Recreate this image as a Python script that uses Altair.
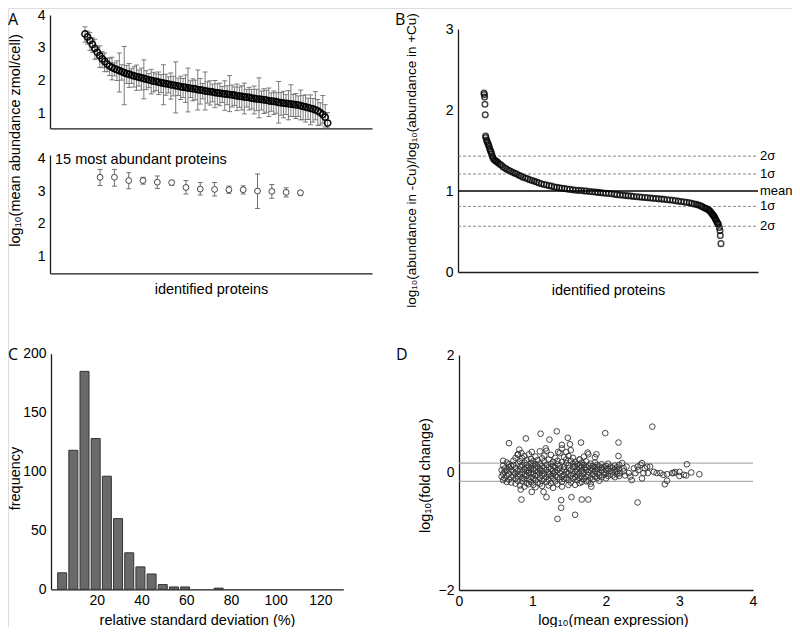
import altair as alt
import pandas as pd

FONT = "Liberation Sans"
W, H = 784, 619

# ---------------- Panel A (top): all identified proteins, sorted by abundance ----------------
a_mean = [3.42, 3.33, 3.22, 3.10, 2.98, 2.86, 2.76, 2.66, 2.58, 2.50,
          2.44, 2.40, 2.36, 2.33, 2.30, 2.27, 2.24, 2.21, 2.19, 2.16,
          2.14, 2.12, 2.10, 2.08, 2.06, 2.04, 2.02, 2.00, 1.98, 1.97,
          1.95, 1.93, 1.92, 1.90, 1.89, 1.87, 1.86, 1.84, 1.83, 1.81,
          1.80, 1.79, 1.77, 1.76, 1.75, 1.74, 1.72, 1.71, 1.70, 1.68,
          1.67, 1.66, 1.65, 1.63, 1.62, 1.61, 1.60, 1.59, 1.58, 1.57,
          1.56, 1.55, 1.53, 1.52, 1.51, 1.50, 1.49, 1.48, 1.46, 1.45,
          1.44, 1.43, 1.42, 1.41, 1.40, 1.38, 1.37, 1.36, 1.35, 1.33,
          1.32, 1.31, 1.30, 1.29, 1.28, 1.27, 1.26, 1.25, 1.23, 1.21,
          1.19, 1.17, 1.15, 1.13, 1.10, 1.07, 1.02, 0.96, 0.88, 0.70]
a_err_up = [0.22, 0.18, 0.25, 0.20, 0.28, 0.15, 0.30, 0.22, 0.26, 0.19,
            0.24, 0.31, 0.18, 0.27, 0.54, 0.21, 0.80, 0.25, 0.33, 0.20,
            0.28, 0.35, 0.22, 0.30, 0.57, 0.26, 0.19, 0.34, 0.27, 0.23,
            0.31, 0.25, 0.56, 0.29, 0.22, 0.36, 0.27, 0.73, 0.24, 0.32,
            0.26, 0.38, 0.61, 0.23, 0.30, 0.27, 0.60, 0.35, 0.21, 0.58,
            0.29, 0.33, 0.24, 0.37, 0.28, 0.31, 0.22, 0.40, 0.26, 0.58,
            0.30, 0.25, 0.36, 0.28, 0.33, 0.42, 0.24, 0.31, 0.27, 0.38,
            0.29, 0.65, 0.26, 0.34, 0.30, 0.39, 0.25, 0.32, 0.28, 0.64,
            0.31, 0.36, 0.27, 0.40, 0.59, 0.30, 0.34, 0.28, 0.48, 0.33,
            0.37, 0.29, 0.41, 0.32, 0.56, 0.35, 0.30, 0.58, 0.38, 0.32]
a_err_down = [0.25, 0.22, 0.30, 0.24, 0.33, 0.20, 0.36, 0.27, 0.31, 0.23,
              0.29, 0.38, 0.22, 0.33, 0.65, 0.26, 0.98, 0.30, 0.40, 0.25,
              0.34, 0.42, 0.27, 0.37, 0.62, 0.32, 0.24, 0.41, 0.33, 0.28,
              0.38, 0.30, 0.66, 0.35, 0.27, 0.44, 0.33, 0.83, 0.29, 0.39,
              0.32, 0.46, 0.73, 0.28, 0.37, 0.33, 0.62, 0.43, 0.26, 0.58,
              0.36, 0.41, 0.30, 0.46, 0.35, 0.38, 0.27, 0.50, 0.32, 0.52,
              0.37, 0.31, 0.45, 0.34, 0.41, 0.52, 0.30, 0.38, 0.33, 0.47,
              0.36, 0.57, 0.32, 0.42, 0.37, 0.48, 0.31, 0.40, 0.35, 0.63,
              0.38, 0.45, 0.34, 0.49, 0.38, 0.37, 0.42, 0.35, 0.43, 0.41,
              0.46, 0.36, 0.50, 0.40, 0.30, 0.44, 0.38, 0.26, 0.30, 0.15]

# ---------------- Panel A (bottom): 15 most abundant proteins ----------------
top15_rank = [1, 2, 3, 4, 5, 6, 7, 8, 9, 10, 11, 12, 13, 14, 15]
top15_mean = [3.42, 3.42, 3.32, 3.32, 3.27, 3.26, 3.11, 3.06, 3.05, 3.04, 3.04, 3.00, 2.99, 2.96, 2.95]
top15_upper = [3.66, 3.66, 3.56, 3.42, 3.46, 3.32, 3.32, 3.26, 3.26, 3.15, 3.16, 3.52, 3.20, 3.10, 3.01]
top15_lower = [3.17, 3.15, 3.07, 3.21, 3.08, 3.18, 2.91, 2.88, 2.85, 2.93, 2.91, 2.47, 2.78, 2.82, 2.86]

# ---------------- Panel B: ratio -Cu / +Cu, sorted ----------------
b_rank = [1, 2, 3, 4, 5,
          6, 7, 9, 11, 13, 15, 17, 19, 21, 23, 25, 27, 29, 32, 35, 38, 41, 45, 50, 55, 60,
          66, 72, 78, 84, 91, 97, 103, 110, 116, 122,
          130, 137, 144, 151, 158, 165, 172, 180, 188, 196,
          204, 212, 220, 228, 236, 244, 252, 260, 269, 278,
          287, 296, 305, 314, 321, 330, 339, 348, 356, 364,
          372, 381, 390, 399, 408, 416, 425, 434, 443, 451,
          460, 468, 477, 486, 494, 503, 511, 520, 528, 537,
          546, 555, 563, 572, 581, 590, 598, 607, 616, 625,
          633, 641, 649, 656, 663, 669, 675, 680, 685, 690,
          694, 698, 702, 705, 708, 711, 714, 716, 718, 720,
          722, 724, 726, 728, 730, 732,
          735, 737, 738, 740]
b_ratio = [2.21, 2.19, 2.16, 2.07, 1.94,
           1.68, 1.66, 1.63, 1.61, 1.59, 1.57, 1.55, 1.52, 1.50, 1.48, 1.46, 1.43, 1.41, 1.39, 1.38, 1.37, 1.36, 1.35, 1.33, 1.32, 1.30,
           1.285, 1.27, 1.255, 1.245, 1.23, 1.22, 1.21, 1.195, 1.185, 1.17,
           1.16, 1.15, 1.14, 1.13, 1.12, 1.11, 1.10, 1.09, 1.08, 1.075,
           1.065, 1.06, 1.05, 1.045, 1.04, 1.035, 1.03, 1.025, 1.02, 1.015,
           1.01, 1.008, 1.005, 1.00, 1.0, 0.995, 0.99, 0.987, 0.983, 0.98,
           0.975, 0.972, 0.968, 0.965, 0.96, 0.955, 0.95, 0.947, 0.943, 0.94,
           0.937, 0.933, 0.93, 0.927, 0.923, 0.92, 0.917, 0.913, 0.91, 0.907,
           0.903, 0.90, 0.897, 0.893, 0.89, 0.885, 0.88, 0.875, 0.87, 0.865,
           0.86, 0.855, 0.848, 0.84, 0.835, 0.828, 0.82, 0.81, 0.80, 0.79,
           0.785, 0.775, 0.765, 0.755, 0.74, 0.725, 0.71, 0.70, 0.69, 0.675,
           0.66, 0.645, 0.63, 0.615, 0.60, 0.59,
           0.55, 0.51, 0.45, 0.35]
b_dashed_levels = [1.43, 1.21, 0.81, 0.565]
b_mean_level = [1.0]
b_level_values = [1.43, 1.21, 1.0, 0.81, 0.565]
b_level_labels = ["2σ", "1σ", "mean", "1σ", "2σ"]

# ---------------- Panel C: histogram of relative standard deviation ----------------
c_bin_center = [4.5, 9.5, 14.5, 19.5, 24.5, 29.5, 34.5, 39.5, 44.5, 49.5, 54.5, 59.5,
                64.5, 69.5, 74.5, 79.5, 84.5, 89.5, 94.5, 99.5, 104.5, 109.5, 114.5, 119.5, 124.5]
c_count = [14, 118, 185, 128, 96, 60, 31, 19, 13, 4, 2, 2,
           0, 0, 1, 0, 0, 0, 0, 0, 0, 0, 0, 0, 0]

# ---------------- Panel D: MA-style scatter ----------------
d_cluster = {
    0.58: [-0.07, 0.04], 0.60: [0.12, -0.02, -0.13, 0.20], 0.62: [0.07, 0.01, -0.10],
    0.65: [0.17, -0.05, 0.03, -0.16], 0.68: [0.09, -0.12, 0.14, -0.02],
    0.71: [0.05, -0.08, 0.11, -0.17], 0.74: [0.20, 0.01, -0.05, 0.13],
    0.77: [-0.10, 0.07, 0.25, -0.02, -0.19], 0.80: [0.30, 0.15, -0.14, 0.03, -0.07],
    0.83: [0.10, -0.03, 0.19, -0.22, 0.05], 0.86: [0.24, -0.09, 0.01, 0.12, -0.15],
    0.89: [0.06, -0.04, 0.17, -0.11, 0.28, -0.24], 0.92: [0.02, 0.13, -0.18, 0.08, -0.06, 0.21],
    0.95: [-0.01, 0.31, 0.10, -0.12, 0.04, -0.20], 0.98: [0.16, -0.08, 0.07, -0.16, 0.23, 0.00],
    1.01: [0.12, -0.03, 0.05, -0.21, 0.19, -0.10], 1.04: [0.27, 0.08, -0.06, 0.14, -0.13, -0.25],
    1.07: [0.02, -0.17, 0.10, 0.21, -0.04], 1.10: [0.36, 0.06, -0.09, 0.15, -0.01, -0.19],
    1.13: [0.11, -0.05, 0.24, 0.03, -0.14, -0.23], 1.16: [0.19, -0.02, 0.08, -0.11, 0.29],
    1.19: [0.04, 0.13, -0.07, -0.16, 0.37], 1.22: [0.22, 0.00, 0.09, -0.12, -0.03, -0.22],
    1.25: [0.15, -0.06, 0.06, 0.30, -0.18], 1.28: [0.03, 0.18, -0.10, 0.11, -0.02, -0.26],
    1.31: [0.25, -0.05, 0.08, -0.15, 0.01], 1.34: [0.14, -0.08, 0.04, 0.20, -0.20],
    1.37: [0.07, -0.01, 0.33, -0.12, 0.12], 1.40: [0.18, 0.02, -0.07, 0.41, -0.16, -0.24],
    1.43: [0.10, -0.04, 0.26, 0.05, -0.11], 1.46: [0.16, -0.09, 0.01, 0.22, 0.35],
    1.49: [0.07, -0.02, 0.12, -0.13, 0.28, -0.21], 1.52: [0.20, -0.06, 0.04, 0.38, -0.17],
    1.55: [0.09, 0.15, -0.03, -0.10, 0.25], 1.58: [0.02, 0.11, -0.08, 0.18, -0.21],
    1.61: [0.06, -0.05, 0.14, 0.01, -0.13], 1.64: [0.22, 0.08, -0.02, -0.09, 0.12, -0.18],
    1.67: [0.03, 0.17, -0.06, 0.10, -0.16], 1.70: [0.07, -0.01, 0.13, -0.11, 0.27],
    1.73: [0.19, 0.04, -0.07, 0.09, -0.15], 1.76: [0.01, 0.12, -0.04, 0.31, -0.14],
    1.79: [0.08, -0.09, 0.15, 0.03, -0.19], 1.82: [0.05, -0.03, 0.11, -0.12],
    1.85: [0.17, 0.02, -0.07, 0.09, 0.26], 1.88: [0.06, -0.02, 0.13, -0.09],
    1.91: [0.10, 0.00, -0.05, -0.14], 1.94: [0.04, 0.14, -0.08, 0.08],
    1.97: [0.01, 0.09, -0.04], 2.00: [0.11, -0.02, 0.05, -0.10], 2.03: [0.07, -0.06, 0.15],
    2.06: [0.03, 0.10, -0.03], 2.09: [0.08, -0.05, 0.01], 2.12: [0.05, 0.12, -0.08],
    2.15: [0.02, 0.09, -0.03], 2.18: [0.06, -0.06, 0.13],
}
d_other = [
    (0.68, 0.50), (0.91, 0.58), (1.11, 0.66), (1.33, 0.70), (1.23, 0.56), (1.48, 0.59),
    (1.51, 0.48), (1.40, 0.47), (1.66, 0.51), (1.99, 0.67), (2.17, 0.51), (2.17, 0.28),
    (2.63, 0.78), (0.82, 0.39), (0.85, 0.33), (0.80, 0.31), (0.99, 0.35), (1.18, 0.41),
    (1.35, 0.35), (1.75, 0.34), (1.87, 0.31), (1.64, 0.22), (3.10, 0.14),
    (0.85, -0.46), (1.15, -0.33), (1.19, -0.42), (1.39, -0.47), (1.39, -0.60), (1.34, -0.79),
    (1.53, -0.42), (1.58, -0.72), (1.67, -0.46), (1.76, -0.46), (2.43, -0.51), (0.99, -0.33),
    (0.84, -0.29), (1.80, -0.24),
    (2.19, -0.01), (2.22, 0.16), (2.24, 0.07), (2.24, 0.02), (2.26, -0.05), (2.28, 0.10),
    (2.31, -0.01), (2.33, -0.07), (2.35, -0.13), (2.38, 0.07), (2.40, -0.01), (2.43, 0.10),
    (2.44, 0.04), (2.47, 0.13), (2.49, 0.16), (2.49, -0.10), (2.51, -0.01), (2.53, 0.07),
    (2.56, 0.10), (2.57, -0.01), (2.60, 0.10), (2.65, 0.01), (2.69, -0.01), (2.74, -0.01),
    (2.78, -0.04), (2.80, -0.20), (2.83, -0.14), (2.83, -0.03), (2.90, -0.01), (2.92, -0.01),
    (2.94, 0.01), (3.00, 0.01), (3.00, -0.06), (3.06, -0.04), (3.09, -0.05), (3.16, 0.00),
    (3.27, -0.03),
]
d_band = [0.16, -0.15]

panel_letters = ["A", "B", "C", "D"]

# ---------------- tables ----------------
dfA = pd.DataFrame({"rank": list(range(len(a_mean))), "mean": a_mean})
dfA["upper"] = [m + u for m, u in zip(a_mean, a_err_up)]
dfA["lower"] = [m - d for m, d in zip(a_mean, a_err_down)]
df15 = pd.DataFrame({"rank": top15_rank, "mean": top15_mean, "upper": top15_upper, "lower": top15_lower})
dfB = pd.DataFrame({"rank": b_rank, "ratio": b_ratio})
dfBd = pd.DataFrame({"v": b_dashed_levels})
dfBm = pd.DataFrame({"v": b_mean_level})
dfBl = pd.DataFrame({"v": b_level_values, "label": b_level_labels})
dfC = pd.DataFrame({"center": c_bin_center, "count": c_count})
d_pts = [(x, y) for x, ys in d_cluster.items() for y in ys] + d_other
dfD = pd.DataFrame(d_pts, columns=["x", "y"])
dfDb = pd.DataFrame({"v": d_band})


def ax(orient, offset, **kw):
    base = dict(orient=orient, offset=offset, grid=False, ticks=False, tickSize=0,
                domainColor="#1a1a1a", domainWidth=1.3,
                labelFont=FONT, labelFontSize=14, labelColor="black", labelPadding=5,
                labelFlush=False, labelOverlap=False,
                titleFont=FONT, titleFontSize=14.5, titleFontWeight="normal", titleColor="black",
                titleBaseline="middle", titleAlign="center")
    base.update(kw)
    return alt.Axis(**base)


def sc(domain, rng):
    return alt.Scale(domain=domain, range=rng, nice=False, zero=False)


# ---------------- Panel A top ----------------
sxA = sc([-14.3, 117.1], [42, 364])
syA = sc([0.54, 4.0], [120.3, 7])
axAx = ax("bottom", 120.3 - H, labels=False, title=None)
axAy = ax("left", -42, values=[1, 2, 3, 4], title="log₁₀(mean abundance zmol/cell)",
          titleX=7 - 42, titleY=132, titleAngle=270)
XA = alt.X("rank:Q", scale=sxA, axis=axAx)
baseA = alt.Chart(dfA)
a_rule = baseA.mark_rule(color="#6e6e6e", strokeWidth=1, opacity=0.9).encode(
    x=XA, y=alt.Y("lower:Q", scale=syA, axis=axAy), y2="upper:Q")
a_cap_lo = baseA.mark_tick(orient="horizontal", size=5, thickness=1, color="#6e6e6e", opacity=0.9).encode(
    x=XA, y=alt.Y("lower:Q", scale=syA, axis=axAy))
a_cap_hi = baseA.mark_tick(orient="horizontal", size=5, thickness=1, color="#6e6e6e", opacity=0.9).encode(
    x=XA, y=alt.Y("upper:Q", scale=syA, axis=axAy))
a_pts = baseA.mark_point(shape="circle", size=40, color="#000", strokeWidth=1.5, opacity=0.95).encode(
    x=XA, y=alt.Y("mean:Q", scale=syA, axis=axAy))
panelA_top = alt.layer(a_rule, a_cap_lo, a_cap_hi, a_pts)

# ---------------- Panel A bottom ----------------
sx15 = sc([-2.5, 20], [42, 364])
sy15 = sc([0.49, 4.10], [265.3, 147])
ax15x = ax("bottom", 265.3 - H, labels=False, title="identified proteins", titleX=203, titleY=16)
ax15y = ax("left", -42, values=[1, 2, 3, 4], title=None)
X15 = alt.X("rank:Q", scale=sx15, axis=ax15x)
base15 = alt.Chart(df15)
t_rule = base15.mark_rule(color="#707070", strokeWidth=1).encode(
    x=X15, y=alt.Y("lower:Q", scale=sy15, axis=ax15y), y2="upper:Q")
t_cap_lo = base15.mark_tick(orient="horizontal", size=5, thickness=1, color="#707070", opacity=1).encode(
    x=X15, y=alt.Y("lower:Q", scale=sy15, axis=ax15y))
t_cap_hi = base15.mark_tick(orient="horizontal", size=5, thickness=1, color="#707070", opacity=1).encode(
    x=X15, y=alt.Y("upper:Q", scale=sy15, axis=ax15y))
t_pts = base15.mark_point(shape="circle", size=34, filled=True, fill="white", stroke="#444",
                          strokeWidth=1, opacity=1).encode(
    x=X15, y=alt.Y("mean:Q", scale=sy15, axis=ax15y))
t_text = alt.Chart(pd.DataFrame({"t": ["15 most abundant proteins"]})).mark_text(
    align="left", baseline="alphabetic", font=FONT, fontSize=14.5, color="black").encode(
    x=alt.value(47), y=alt.value(156), text="t:N")
panelA_bot = alt.layer(t_rule, t_cap_lo, t_cap_hi, t_pts)

# ---------------- Panel B ----------------
sxR = sc([-80, 855.5], [450, 750])
syR = sc([0, 3], [264, 21])
axRx = ax("bottom", 264 - H, labels=False, title="identified proteins", titleX=600, titleY=18)
axRy = ax("left", -450, values=[0, 1, 2, 3],
          title="log₁₀(abundance in -Cu)/log₁₀(abundance in +Cu)",
          titleX=403 - 450, titleY=152, titleFontSize=13.5, titleAngle=270)
b_pts = alt.Chart(dfB).mark_point(shape="circle", size=32, color="black", strokeWidth=1.4,
                                  opacity=1, strokeOpacity=0.75).encode(
    x=alt.X("rank:Q", scale=sxR, axis=axRx), y=alt.Y("ratio:Q", scale=syR, axis=axRy))
b_dash = alt.Chart(dfBd).mark_rule(color="#666", strokeWidth=0.8, strokeDash=[3, 2]).encode(
    x=alt.value(450), x2=alt.value(750), y=alt.Y("v:Q", scale=syR, axis=axRy))
b_mean = alt.Chart(dfBm).mark_rule(color="black", strokeWidth=1.6).encode(
    x=alt.value(450), x2=alt.value(750), y=alt.Y("v:Q", scale=syR, axis=axRy))
b_lab = alt.Chart(dfBl).mark_text(align="left", baseline="middle", font=FONT, fontSize=13,
                                  color="black").encode(
    x=alt.value(752), y=alt.Y("v:Q", scale=syR, axis=axRy), text="label:N")
panelB = alt.layer(b_dash, b_mean, b_pts, b_lab)

# ---------------- Panel C ----------------
sxC = sc([1.75, 128], [43, 335.3])
syC = sc([0, 200], [581.3, 345.7])
axCx = ax("bottom", 581.3 - H, values=[20, 40, 60, 80, 100, 120], labelPadding=4,
          title="relative standard deviation (%)", titleX=189, titleY=31)
axCy = ax("left", -43, values=[0, 50, 100, 150, 200], title="frequency",
          titleX=7 - 43, titleY=470, titleAngle=270)
panelC = alt.Chart(dfC).transform_filter("datum.count > 0").mark_bar(
    orient="vertical", size=9, color="#6a6a6a", stroke="#333", strokeWidth=1).encode(
    x=alt.X("center:Q", scale=sxC, axis=axCx), y=alt.Y("count:Q", scale=syC, axis=axCy))

# ---------------- Panel D ----------------
sxD = sc([0, 4], [451, 745])
syD = sc([-2, 2], [582, 347])
axDx = ax("bottom", 582 - H, values=[0, 1, 2, 3, 4], labelPadding=4,
          title="log₁₀(mean expression)", titleX=605, titleY=30)
axDy = ax("left", -451, values=[-2, 0, 2], title="log₁₀(fold change)",
          titleX=417 - 451, titleY=467, titleAngle=270)
d_lines = alt.Chart(dfDb).mark_rule(color="#9a9a9a", strokeWidth=1).encode(
    x=alt.value(451), x2=alt.value(745), y=alt.Y("v:Q", scale=syD, axis=axDy))
d_pts_ch = alt.Chart(dfD).mark_point(shape="circle", size=32, color="#333", strokeWidth=0.9,
                                     opacity=1).encode(
    x=alt.X("x:Q", scale=sxD, axis=axDx), y=alt.Y("y:Q", scale=syD, axis=axDy))
panelD = alt.layer(d_lines, d_pts_ch)

# ---------------- panel letters ----------------
letter_pos = {"A": (0, 4), "B": (387, 4), "C": (0, 339), "D": (388, 339)}
letters = []
for L in panel_letters:
    lx, ly = letter_pos[L]
    letters.append(alt.Chart(pd.DataFrame({"l": [L]})).mark_text(
        align="left", baseline="top", font="Open Sans", fontSize=16, color="black").encode(
        x=alt.value(lx), y=alt.value(ly), text="l:N"))

chart = alt.layer(panelA_top, panelA_bot, panelB, panelC, panelD, t_text, *letters).resolve_scale(
    x="independent", y="independent").resolve_axis(x="independent", y="independent").properties(
    width=W, height=H, padding=0, autosize=alt.AutoSizeParams(type="none")
).configure_view(strokeWidth=0).configure(font=FONT)

chart.save("out.html", embed_options={"renderer": "svg", "actions": False})
